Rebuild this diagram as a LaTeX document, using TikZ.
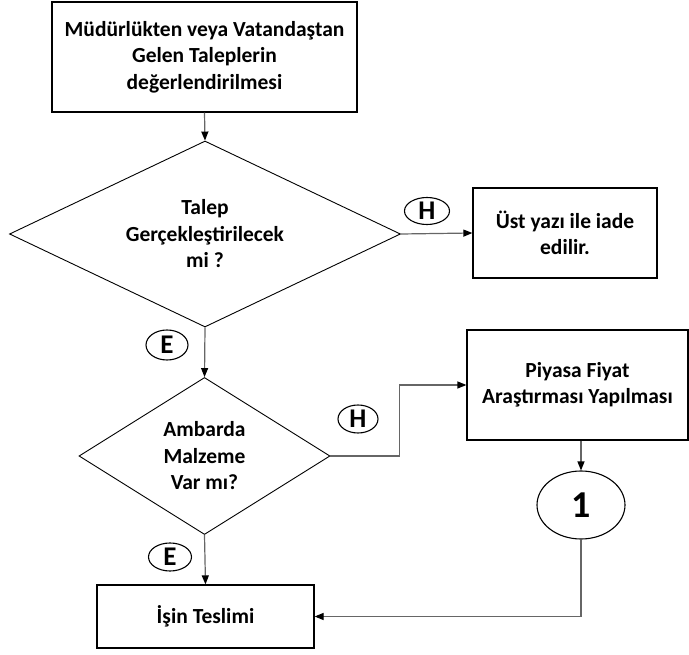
\documentclass[tikz,border=0pt]{standalone}
\usepackage{fontspec}
\setmainfont{Carlito}
\usetikzlibrary{shapes.geometric,arrows.meta}

\begin{document}
\begin{tikzpicture}[x=1pt,y=-1pt,
    every node/.style={font=\fontsize{21.5}{26.5}\selectfont\bfseries, align=center},
    box/.style={draw, line width=1.2pt, inner sep=0pt},
    decision/.style={draw, diamond, shape aspect=2.1, line width=0.9pt, inner sep=0pt},
    answer/.style={draw, ellipse, line width=1.1pt, inner sep=0pt, font=\fontsize{27}{27}\selectfont\bfseries},
    flow/.style={draw=black!60, line width=1.2pt, -{Triangle[length=9pt,width=7pt,color=black]}}
]
    % Page size
    \useasboundingbox (0,0) rectangle (689,655);

    % Boxes
    \node[box, minimum width=305pt, minimum height=110pt] (request) at (204.5,57)
        {Müdürlükten veya Vatandaştan\\Gelen Taleplerin\\değerlendirilmesi};
    \node[box, minimum width=184pt, minimum height=90pt] (return) at (565,233)
        {Üst yazı ile iade\\edilir.};
    \node[box, minimum width=221pt, minimum height=110pt] (market) at (577.5,385)
        {Piyasa Fiyat\\Araştırması Yapılması};
    \node[box, minimum width=217pt, minimum height=63pt] (deliver) at (205.5,616.5)
        {İşin Teslimi};

    % Decisions
    \node[decision, minimum width=391pt, minimum height=186pt] (feasible) at (205,234)
        {Talep\\Gerçekleştirilecek\\mi ?};
    \node[decision, shape aspect=1.6, minimum width=251pt, minimum height=157pt] (stock) at (204.5,456)
        {Ambarda\\Malzeme\\Var mı?};

    % Connector
    \node[answer, minimum width=88pt, minimum height=68pt, font=\fontsize{38}{38}\selectfont\bfseries] (one) at (581,505) {1};

    % Answers
    \node[answer, minimum width=45pt, minimum height=27pt] (no1) at (427,211) {H};
    \node[answer, minimum width=40pt, minimum height=28pt] (no2) at (358,419) {H};
    \node[answer, minimum width=42pt, minimum height=30pt] (yes1) at (167,345) {E};
    \node[answer, minimum width=43pt, minimum height=28pt] (yes2) at (170,557) {E};

    % Flow lines
    \draw[flow] (request.south) -- (feasible.north);
    \draw[flow] (feasible.east) -- (return.west);
    \draw[flow] (feasible.south) -- (stock.north);
    \draw[flow] (stock.east) -- ++(69,0) |- (market.west);
    \draw[flow] (market.south -| one.north) -- (one.north);
    \draw[flow] (stock.south) -- (deliver.north);
    \draw[flow] (one.south) |- (deliver.east);

\end{tikzpicture}
\end{document}
